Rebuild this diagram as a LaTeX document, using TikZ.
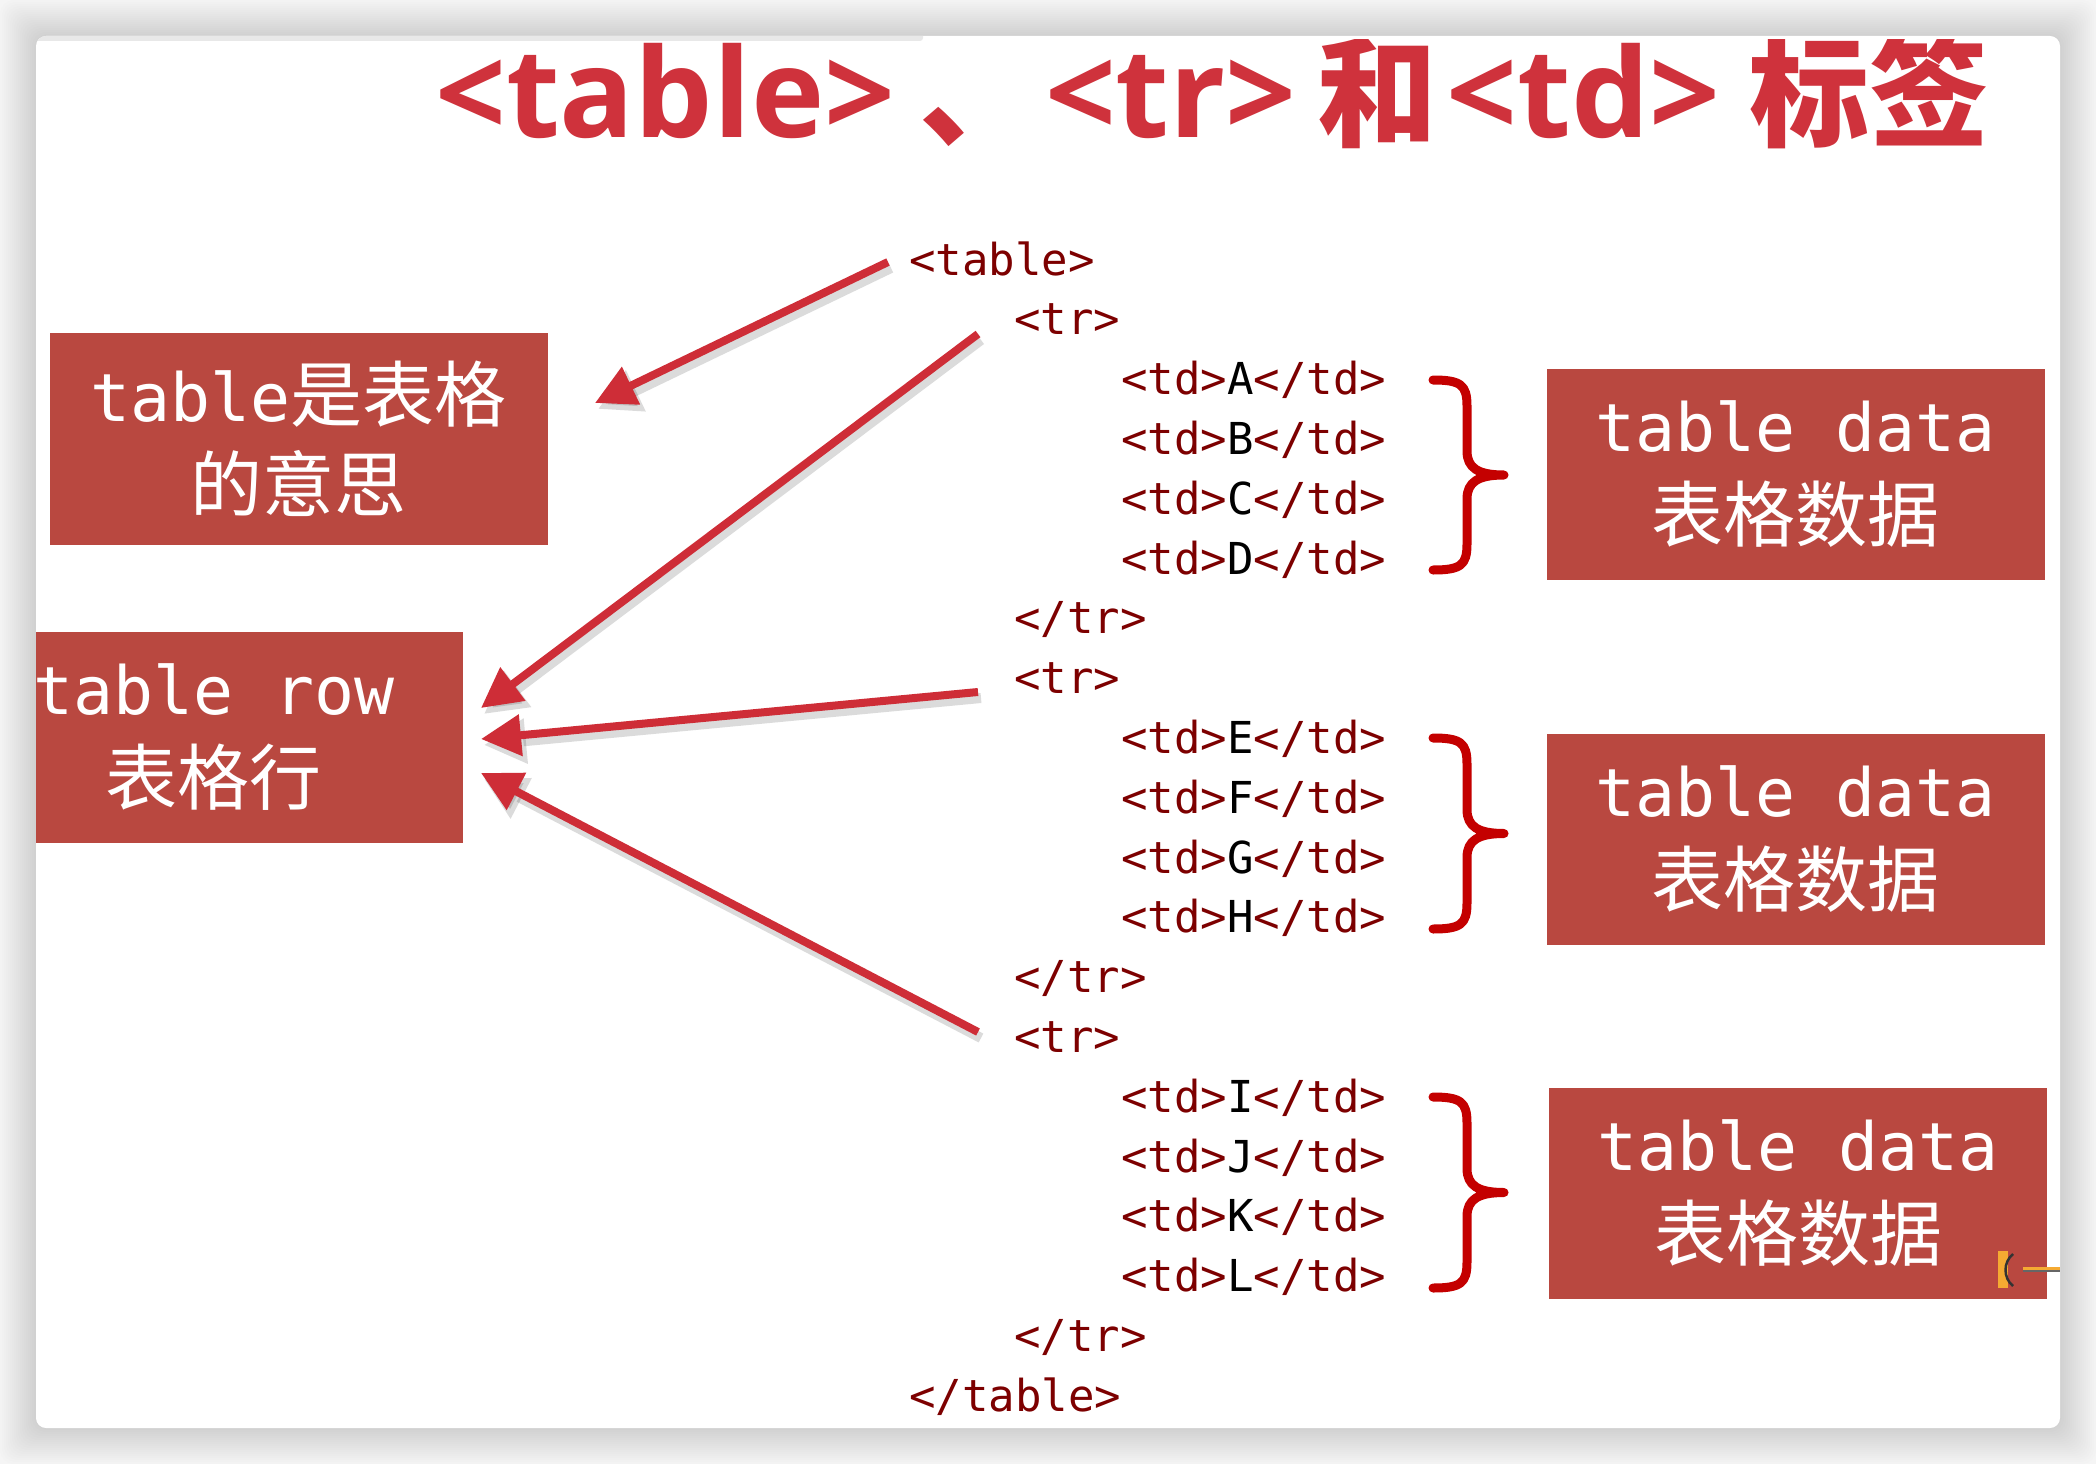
\documentclass[tikz,border=0pt]{standalone}
\usepackage{fontspec}
\usetikzlibrary{arrows.meta}
\newfontfamily\monof{DejaVu Sans Mono}
\newfontfamily\cjkf{Noto Sans CJK SC}
\newfontfamily\titlef{Open Sans}
\definecolor{boxred}{RGB}{185,72,64}
\definecolor{titred}{RGB}{207,50,60}
\definecolor{codered}{RGB}{125,0,0}
\definecolor{bracered}{RGB}{196,0,0}
\definecolor{arrred}{RGB}{206,45,55}
\definecolor{iconorange}{RGB}{245,170,50}
\newcommand\ttl[1]{{\titlef\bfseries\fontsize{124}{124}\selectfont #1}}
\newcommand\ttc[1]{{\cjkf\bfseries\fontsize{120}{120}\selectfont #1}}
\newcommand\boxlat[1]{{\monof\fontsize{66.5}{90}\selectfont #1}}
\newcommand\boxhan[1]{{\cjkf\fontsize{72}{90}\selectfont #1}}
\newcommand\blk[1]{\textcolor{black}{#1}}
\tikzset{
  infobox/.style={fill=boxred, text=white, inner sep=0pt, minimum width=498pt,
    minimum height=211pt, align=center, font=\fontsize{66.5}{90}\selectfont},
  code/.style={anchor=base west, inner sep=0pt, text=codered,
    font=\monof\fontsize{44}{44}\selectfont},
  arr/.style={draw=arrred, line width=8pt, -{Triangle[length=40pt,width=40pt]}},
  arrsh/.style={draw=black, opacity=0.14, line width=10pt,
    -{Triangle[length=42pt,width=43pt]}, transform canvas={shift={(3pt,-6pt)}}},
  bracestyle/.style={draw=bracered, line width=9pt, line cap=round, line join=round},
}
\begin{document}
\begin{tikzpicture}[x=1pt,y=-1pt]
\useasboundingbox (0,0) rectangle (2096,1464);
% background and slide shadow
\fill[white!96!black] (0,0) rectangle (2096,1464);
\foreach \k in {1,...,18}{
  \fill[black, opacity=0.009, rounded corners=14pt]
    ({36-2*\k},{36-2*\k}) rectangle ({2060+2*\k},{1428+2*\k});
}
\fill[white, rounded corners=10pt] (36,36) rectangle (2060,1428);
\begin{scope}
\clip[rounded corners=10pt] (36,36) rectangle (2060,1428);
\fill[white!91!black, rounded corners=3pt] (30,30) rectangle (923,41);
% title
\begin{scope}
\clip (36,40) rectangle (2060,300);
\node[anchor=base west, inner sep=0pt, text=titred] (title) at (435,137)
  {\ttl{<table>}\kern24pt\ttc{、}\kern6pt\ttl{<tr>}\kern21pt\ttc{和}\kern9pt\ttl{<td>}\kern29pt\ttc{标签}};
\end{scope}
% code lines
\node[code] (l0) at (909,275) {<table>};
\node[code] (l1) at (1014,334.8) {<tr>};
\node[code] (l2) at (1121,394.6) {<td>\blk{A}</td>};
\node[code] (l3) at (1121,454.4) {<td>\blk{B}</td>};
\node[code] (l4) at (1121,514.2) {<td>\blk{C}</td>};
\node[code] (l5) at (1121,574) {<td>\blk{D}</td>};
\node[code] (l6) at (1014,633.8) {</tr>};
\node[code] (l7) at (1014,693.6) {<tr>};
\node[code] (l8) at (1121,753.4) {<td>\blk{E}</td>};
\node[code] (l9) at (1121,813.2) {<td>\blk{F}</td>};
\node[code] (l10) at (1121,873) {<td>\blk{G}</td>};
\node[code] (l11) at (1121,932.8) {<td>\blk{H}</td>};
\node[code] (l12) at (1014,992.6) {</tr>};
\node[code] (l13) at (1014,1052.4) {<tr>};
\node[code] (l14) at (1121,1112.2) {<td>\blk{I}</td>};
\node[code] (l15) at (1121,1172) {<td>\blk{J}</td>};
\node[code] (l16) at (1121,1231.8) {<td>\blk{K}</td>};
\node[code] (l17) at (1121,1291.6) {<td>\blk{L}</td>};
\node[code] (l18) at (1014,1351.4) {</tr>};
\node[code] (l19) at (909,1411.2) {</table>};
% boxes
\node[infobox, minimum height=212pt] (b1) at (298.5,438.5)
  {\boxlat{table}\boxhan{是表格}\\\boxhan{的意思}};
\node[infobox] (b2) at (214,737.5)
  {\boxlat{table row}\\\boxhan{表格行}};
\node[infobox] (r1) at (1795.5,474.5)
  {\boxlat{table data}\\\boxhan{表格数据}};
\node[infobox] (r2) at (1795.5,839)
  {\boxlat{table data}\\\boxhan{表格数据}};
\node[infobox] (r3) at (1798,1193)
  {\boxlat{table data}\\\boxhan{表格数据}};
% braces
\foreach \t/\b in {380/570, 738/929, 1097/1288}{
  \pgfmathsetmacro\m{(\t+\b)/2}
  \draw[bracestyle] (1433,\t) .. controls (1461,\t) and (1467,\t+5) .. (1467,\t+26)
    -- (1467,\m-24) .. controls (1467,\m-7) and (1478,\m) .. (1504,\m)
    .. controls (1478,\m) and (1467,\m+7) .. (1467,\m+24)
    -- (1467,\b-26) .. controls (1467,\b-5) and (1461,\b) .. (1433,\b);
}
% arrows
\coordinate (a1s) at (888,262);  \coordinate (a1e) at (595,403);
\coordinate (a2s) at (978,334);  \coordinate (a2e) at (481,708);
\coordinate (a3s) at (978,692);  \coordinate (a3e) at (481,739);
\coordinate (a4s) at (978,1032); \coordinate (a4e) at (481,773);
\foreach \i in {1,2,3,4}{
  \draw[arrsh] (a\i s) -- (a\i e);
}
\foreach \i in {1,2,3,4}{
  \draw[arr] (a\i s) -- (a\i e);
}
% small orange icon
\fill[iconorange] (1998,1251) rectangle (2008,1288);
\draw[black!80, line width=2.5pt] (2013,1254) .. controls (2003,1262) and (2003,1278) .. (2013,1286);
\draw[black!60, line width=2pt] (2023,1271) -- (2060,1271);
\draw[iconorange, line width=3pt] (2023,1268.5) -- (2060,1268.5);
\end{scope}
\end{tikzpicture}
\end{document}
